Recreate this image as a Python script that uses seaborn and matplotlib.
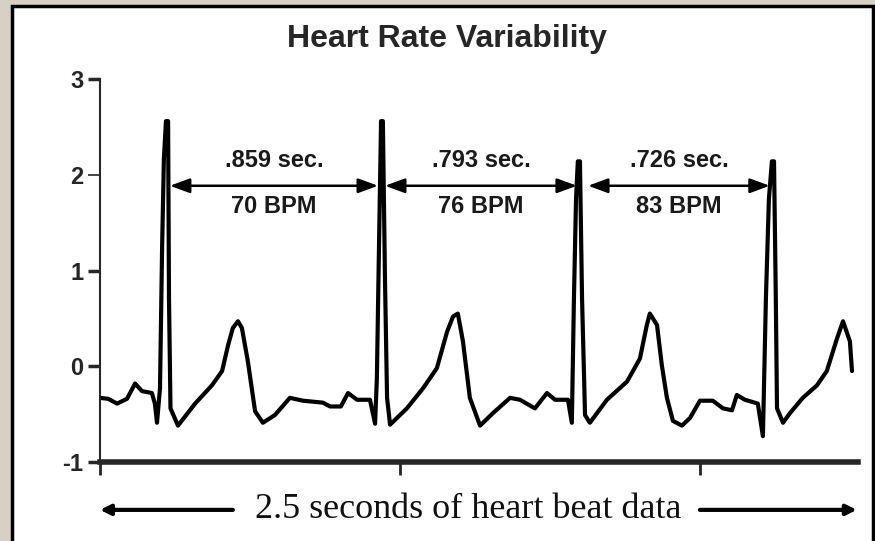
import pandas as pd
import seaborn as sns
import matplotlib.pyplot as plt
from matplotlib.patches import Rectangle

# Trazo ECG (segundos, amplitud)
tiempo = [0.000, 0.027, 0.057, 0.090, 0.117, 0.140, 0.173, 0.183, 0.190, 0.200,
          0.207, 0.213, 0.220, 0.227, 0.230, 0.235, 0.260, 0.317, 0.373, 0.407,
          0.427, 0.443, 0.460, 0.473, 0.493, 0.517, 0.543, 0.583, 0.633, 0.677,
          0.743, 0.767, 0.803, 0.827, 0.857, 0.900, 0.917, 0.923, 0.930, 0.937,
          0.943, 0.950, 0.957, 0.967, 1.023, 1.077, 1.123, 1.157, 1.177, 1.193,
          1.210, 1.233, 1.267, 1.310, 1.367, 1.400, 1.450, 1.490, 1.517, 1.560,
          1.573, 1.580, 1.587, 1.593, 1.600, 1.607, 1.617, 1.633, 1.690, 1.757,
          1.800, 1.823, 1.833, 1.857, 1.873, 1.890, 1.910, 1.940, 1.967, 2.000,
          2.043, 2.077, 2.107, 2.123, 2.150, 2.193, 2.210, 2.220, 2.230, 2.240,
          2.247, 2.253, 2.257, 2.277, 2.300, 2.343, 2.390, 2.423, 2.457, 2.477,
          2.500, 2.507]
amplitud = [-0.33, -0.34, -0.39, -0.34, -0.18, -0.26, -0.28, -0.39, -0.59, -0.23,
            1.23, 2.17, 2.56, 2.56, 0.71, -0.44, -0.62, -0.39, -0.20, -0.05,
            0.22, 0.40, 0.47, 0.40, 0.05, -0.47, -0.59, -0.51, -0.33, -0.36,
            -0.38, -0.42, -0.42, -0.28, -0.35, -0.35, -0.60, -0.13, 1.23, 2.56,
            2.56, 0.92, -0.33, -0.61, -0.44, -0.23, -0.02, 0.36, 0.52, 0.55,
            0.26, -0.33, -0.62, -0.49, -0.33, -0.35, -0.44, -0.28, -0.35, -0.35,
            -0.59, 0.71, 1.75, 2.14, 2.14, 0.71, -0.51, -0.59, -0.35, -0.16,
            0.08, 0.43, 0.55, 0.43, 0.01, -0.33, -0.57, -0.62, -0.54, -0.36,
            -0.36, -0.44, -0.46, -0.30, -0.35, -0.39, -0.73, 0.71, 1.75, 2.14,
            2.14, 0.71, -0.44, -0.59, -0.49, -0.33, -0.20, -0.05, 0.29, 0.47,
            0.26, -0.05]

# Intervalos R-R
inicio_intervalo = [0.233, 0.950, 1.627]
fin_intervalo = [0.927, 1.590, 2.233]
etiqueta_seg = ['.859 sec.', '.793 sec.', '.726 sec.']
etiqueta_bpm = ['70 BPM', '76 BPM', '83 BPM']

y_ticks = [-1, 0, 1, 2, 3]
x_ticks = [0, 1, 2]

df = pd.DataFrame({'t': tiempo, 'v': amplitud})

sns.set_style('ticks')
plt.rcParams['axes.unicode_minus'] = False
plt.rcParams['font.family'] = ['Liberation Sans', 'DejaVu Sans']

fig = plt.figure(figsize=(8.75, 5.41), dpi=100, facecolor='#d8cfc5')
# marco blanco con borde negro
fig.add_artist(Rectangle((12 / 875, -0.02), 861 / 875, 1.008, transform=fig.transFigure,
                         facecolor='white', edgecolor='black', linewidth=2.5, zorder=-1))

ax = fig.add_axes([100 / 875, 79 / 541, 758 / 875, 383 / 541])
ax.set_facecolor('none')

sns.lineplot(data=df, x='t', y='v', color='black', linewidth=3, sort=False,
             estimator=None, ax=ax, legend=False)

ax.set_xlim(0, 2.527)
ax.set_ylim(-1, 3)
ax.set_xticks(x_ticks)
ax.set_yticks(y_ticks)
ax.set_xlabel('')
ax.set_ylabel('')

for lado in ['top', 'right']:
    ax.spines[lado].set_visible(False)
ax.spines['left'].set_linewidth(1.5)
ax.spines['bottom'].set_linewidth(4)

ax.tick_params(axis='y', direction='out', length=9, width=2.5, pad=3, labelsize=17)
ax.tick_params(axis='x', direction='out', length=9, width=2, labelbottom=False)
for lab in ax.get_yticklabels():
    lab.set_fontweight('bold')
ax.yaxis.get_major_ticks()[3].tick1line.set_markeredgewidth(1.2)

# flechas de intervalo
for ini, fin, seg, bpm in zip(inicio_intervalo, fin_intervalo, etiqueta_seg, etiqueta_bpm):
    ax.annotate('', xy=(fin, 1.885), xytext=(ini, 1.885),
                arrowprops=dict(arrowstyle='<|-|>,head_length=0.6,head_width=0.22',
                                color='black', lw=1.8, shrinkA=0, shrinkB=0,
                                mutation_scale=20))
    medio = (ini + fin) / 2
    ax.text(medio, 2.15, seg, ha='center', va='center', fontsize=17,
            fontweight='bold', color='#1a1a1a')
    ax.text(medio, 1.67, bpm, ha='center', va='center', fontsize=17,
            fontweight='bold', color='#1a1a1a')

# eje de tiempo inferior
ax.annotate('', xy=(0, -1.5), xytext=(0.443, -1.5), annotation_clip=False,
            arrowprops=dict(arrowstyle='-|>,head_length=0.6,head_width=0.3',
                            color='black', lw=3, shrinkA=0, shrinkB=0))
ax.annotate('', xy=(2.523, -1.5), xytext=(2.0, -1.5), annotation_clip=False,
            arrowprops=dict(arrowstyle='-|>,head_length=0.6,head_width=0.3',
                            color='black', lw=3, shrinkA=0, shrinkB=0))
ax.text(1.227, -1.58, '2.5 seconds of heart beat data', ha='center', va='baseline',
        fontsize=26, family='Liberation Serif', color='#111111', clip_on=False)

fig.text(447 / 875, (541 - 47) / 541, 'Heart Rate Variability', ha='center',
         va='baseline', fontsize=23, fontweight='bold')

fig.savefig('out.png', dpi=100, facecolor=fig.get_facecolor())
